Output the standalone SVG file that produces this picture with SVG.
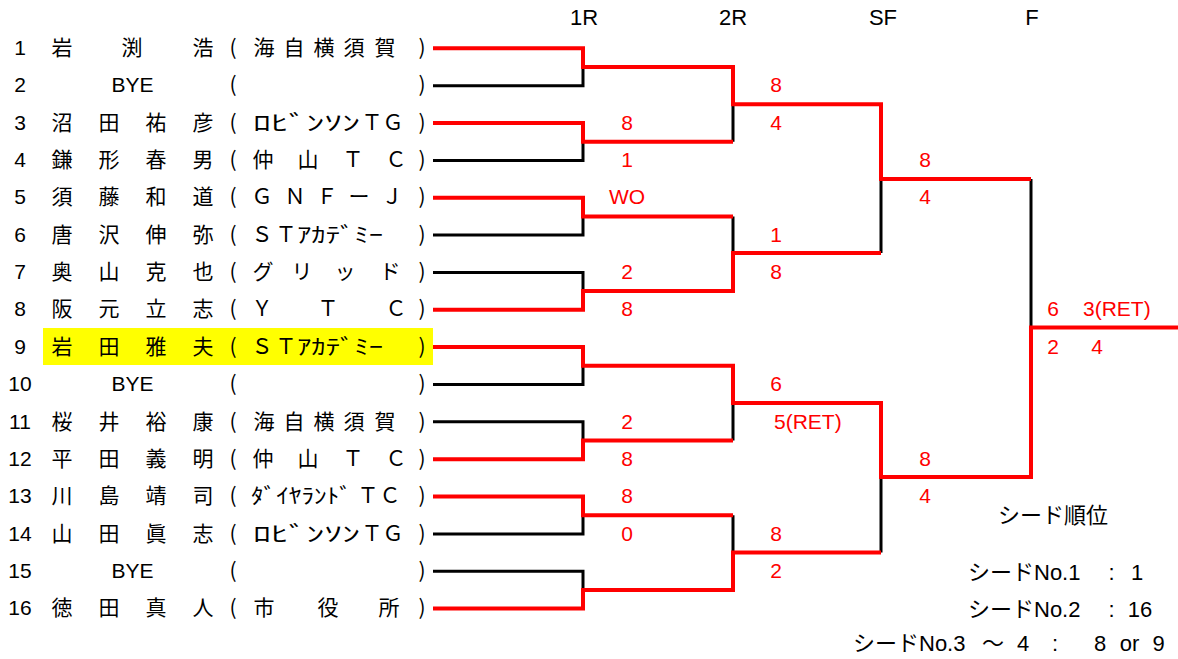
<svg xmlns="http://www.w3.org/2000/svg" width="1178" height="659" viewBox="0 0 1178 659">
<style>
.t{font-family:'Liberation Sans','Noto Sans CJK JP',sans-serif;font-size:21px;fill:#000;text-anchor:middle}
.j{font-family:'Noto Sans CJK JP',sans-serif;font-size:21px;fill:#000;text-anchor:middle}
.hw{font-family:'Noto Sans CJK JP',sans-serif;font-size:21px;fill:#000;text-anchor:start}
.s{font-family:'Liberation Sans','Noto Sans CJK JP',sans-serif;font-size:21px;fill:#FF0000;text-anchor:middle}
.h{font-family:'Liberation Sans',sans-serif;font-size:22px;fill:#000;text-anchor:middle}
.k{font-family:'Liberation Sans','Noto Sans CJK JP',sans-serif;font-size:22px;fill:#000}
.rl{fill:none;stroke:#FF0000;stroke-width:4;stroke-linejoin:miter}
.bl{fill:none;stroke:#000;stroke-width:3}
</style>
<rect width="1178" height="659" fill="#fff"/>
<g id="headers">
<text class="h" x="584" y="25">1R</text>
<text class="h" x="733" y="25">2R</text>
<text class="h" x="883" y="25">SF</text>
<text class="h" x="1032" y="25">F</text>
</g>
<rect id="highlight" x="43" y="328" width="390" height="37" fill="#FFFF00"/>
<g id="row1"><text class="t" x="20" y="55">1</text><text class="j" x="62 132 203" y="55">岩渕浩</text><text class="j" x="233" y="55">(</text><text class="j" x="264 294 324 354 385" y="55">海自横須賀</text><text class="j" x="422" y="55">)</text></g>
<g id="row2"><text class="t" x="20" y="92.35">2</text><text class="t" x="132.5" y="92.35">BYE</text><text class="j" x="233" y="92.35">(</text><text class="j" x="422" y="92.35">)</text></g>
<g id="row3"><text class="t" x="20" y="129.7">3</text><text class="j" x="62 109 156 203" y="129.7">沼田祐彦</text><text class="j" x="233" y="129.7">(</text><text class="hw" x="253" y="129.7" textLength="107" lengthAdjust="spacingAndGlyphs">ﾛﾋﾞﾝｿﾝ</text><text class="j" x="372 393" y="129.7">ＴＧ</text><text class="j" x="422" y="129.7">)</text></g>
<g id="row4"><text class="t" x="20" y="167.05">4</text><text class="j" x="62 109 156 203" y="167.05">鎌形春男</text><text class="j" x="233" y="167.05">(</text><text class="j" x="263 308 353 396" y="167.05">仲山ＴＣ</text><text class="j" x="422" y="167.05">)</text></g>
<g id="row5"><text class="t" x="20" y="204.4">5</text><text class="j" x="62 109 156 203" y="204.4">須藤和道</text><text class="j" x="233" y="204.4">(</text><text class="j" x="262 295 327 359 392" y="204.4">ＧＮＦーＪ</text><text class="j" x="422" y="204.4">)</text></g>
<g id="row6"><text class="t" x="20" y="241.75">6</text><text class="j" x="62 109 156 203" y="241.75">唐沢伸弥</text><text class="j" x="233" y="241.75">(</text><text class="j" x="262 286" y="241.75">ＳＴ</text><text class="hw" x="297" y="241.75" textLength="86" lengthAdjust="spacingAndGlyphs">ｱｶﾃﾞﾐｰ</text><text class="j" x="422" y="241.75">)</text></g>
<g id="row7"><text class="t" x="20" y="279.1">7</text><text class="j" x="62 109 156 203" y="279.1">奥山克也</text><text class="j" x="233" y="279.1">(</text><text class="j" x="263 302 345 390" y="279.1">グリッド</text><text class="j" x="422" y="279.1">)</text></g>
<g id="row8"><text class="t" x="20" y="316.45">8</text><text class="j" x="62 109 156 203" y="316.45">阪元立志</text><text class="j" x="233" y="316.45">(</text><text class="j" x="262 328 396" y="316.45">ＹＴＣ</text><text class="j" x="422" y="316.45">)</text></g>
<g id="row9"><text class="t" x="20" y="353.8">9</text><text class="j" x="62 109 156 203" y="353.8">岩田雅夫</text><text class="j" x="233" y="353.8">(</text><text class="j" x="262 286" y="353.8">ＳＴ</text><text class="hw" x="297" y="353.8" textLength="86" lengthAdjust="spacingAndGlyphs">ｱｶﾃﾞﾐｰ</text><text class="j" x="422" y="353.8">)</text></g>
<g id="row10"><text class="t" x="20" y="391.15">10</text><text class="t" x="132.5" y="391.15">BYE</text><text class="j" x="233" y="391.15">(</text><text class="j" x="422" y="391.15">)</text></g>
<g id="row11"><text class="t" x="20" y="428.5">11</text><text class="j" x="62 109 156 203" y="428.5">桜井裕康</text><text class="j" x="233" y="428.5">(</text><text class="j" x="264 294 324 354 385" y="428.5">海自横須賀</text><text class="j" x="422" y="428.5">)</text></g>
<g id="row12"><text class="t" x="20" y="465.85">12</text><text class="j" x="62 109 156 203" y="465.85">平田義明</text><text class="j" x="233" y="465.85">(</text><text class="j" x="263 308 353 396" y="465.85">仲山ＴＣ</text><text class="j" x="422" y="465.85">)</text></g>
<g id="row13"><text class="t" x="20" y="503.2">13</text><text class="j" x="62 109 156 203" y="503.2">川島靖司</text><text class="j" x="233" y="503.2">(</text><text class="hw" x="251" y="503.2" textLength="101" lengthAdjust="spacingAndGlyphs">ﾀﾞｲﾔﾗﾝﾄﾞ</text><text class="j" x="368 390" y="503.2">ＴＣ</text><text class="j" x="422" y="503.2">)</text></g>
<g id="row14"><text class="t" x="20" y="540.55">14</text><text class="j" x="62 109 156 203" y="540.55">山田眞志</text><text class="j" x="233" y="540.55">(</text><text class="hw" x="253" y="540.55" textLength="107" lengthAdjust="spacingAndGlyphs">ﾛﾋﾞﾝｿﾝ</text><text class="j" x="372 393" y="540.55">ＴＧ</text><text class="j" x="422" y="540.55">)</text></g>
<g id="row15"><text class="t" x="20" y="577.9">15</text><text class="t" x="132.5" y="577.9">BYE</text><text class="j" x="233" y="577.9">(</text><text class="j" x="422" y="577.9">)</text></g>
<g id="row16"><text class="t" x="20" y="615.25">16</text><text class="j" x="62 109 156 203" y="615.25">徳田真人</text><text class="j" x="233" y="615.25">(</text><text class="j" x="264 328 389" y="615.25">市役所</text><text class="j" x="422" y="615.25">)</text></g>
<g id="connectors">
<path class="bl" d="M433,85.7H583V67"/>
<path class="bl" d="M433,160.4H583V141.7"/>
<path class="bl" d="M433,235.1H583V216.4"/>
<path class="bl" d="M433,272.4H583V291.1"/>
<path class="bl" d="M433,384.5H583V365.8"/>
<path class="bl" d="M433,421.8H583V440.5"/>
<path class="bl" d="M433,533.9H583V515.2"/>
<path class="bl" d="M433,571.2H583V589.9"/>
<path class="bl" d="M733,141.7V104.3M733,216.4V253M733,440.5V403.1M733,515.2V552.5"/>
<path class="bl" d="M881,253V179M881,552.5V477"/>
<path class="bl" d="M1031,179V327.5"/>
<path class="rl" d="M433,48.3H583V67H733V104.3H881V179H1031"/>
<path class="rl" d="M433,123H583V141.7H733"/>
<path class="rl" d="M433,197.7H583V216.4H733"/>
<path class="rl" d="M433,309.8H583V291.1H733V253H881"/>
<path class="rl" d="M433,347.1H583V365.8H733V403.1H881V477H1031V327.5H1178"/>
<path class="rl" d="M433,459.2H583V440.5H733"/>
<path class="rl" d="M433,496.5H583V515.2H733"/>
<path class="rl" d="M433,608.6H583V589.9H733V552.5H881"/>
</g>
<g id="scores">
<text class="s" x="627" y="129.7">8</text>
<text class="s" x="627" y="167.05">1</text>
<text class="s" x="627" y="204.4">WO</text>
<text class="s" x="627" y="279.1">2</text>
<text class="s" x="627" y="316.45">8</text>
<text class="s" x="627" y="428.5">2</text>
<text class="s" x="627" y="465.85">8</text>
<text class="s" x="627" y="503.2">8</text>
<text class="s" x="627" y="540.55">0</text>
<text class="s" x="776" y="92.35">8</text>
<text class="s" x="776" y="129.7">4</text>
<text class="s" x="776" y="241.75">1</text>
<text class="s" x="776" y="279.1">8</text>
<text class="s" x="776" y="391.15">6</text>
<text class="s" x="774" y="428.5" style="text-anchor:start">5(RET)</text>
<text class="s" x="776" y="540.55">8</text>
<text class="s" x="776" y="577.9">2</text>
<text class="s" x="925" y="167.05">8</text>
<text class="s" x="925" y="204.4">4</text>
<text class="s" x="925" y="465.85">8</text>
<text class="s" x="925" y="503.2">4</text>
<text class="s" x="1053" y="316.45">6</text>
<text class="s" x="1083" y="316.45" style="text-anchor:start">3(RET)</text>
<text class="s" x="1053" y="353.8">2</text>
<text class="s" x="1097" y="353.8">4</text>
</g>
<g id="seeds">
<text class="k" x="1053" y="523" style="text-anchor:middle">シード順位</text>
<text class="k" x="968" y="580">シードNo.1</text>
<text class="k" x="1111.5" y="580" style="text-anchor:middle">:</text>
<text class="k" x="1137" y="580" style="text-anchor:middle">1</text>
<text class="k" x="968" y="616.5">シードNo.2</text>
<text class="k" x="1111.5" y="616.5" style="text-anchor:middle">:</text>
<text class="k" x="1140" y="616.5" style="text-anchor:middle">16</text>
<text class="k" x="853" y="651">シードNo.3</text>
<text class="k" x="993" y="651" style="text-anchor:middle">～</text>
<text class="k" x="1023" y="651" style="text-anchor:middle">4</text>
<text class="k" x="1055" y="651" style="text-anchor:middle">:</text>
<text class="k" x="1100" y="651" style="text-anchor:middle">8</text>
<text class="k" x="1129.5" y="651" style="text-anchor:middle">or</text>
<text class="k" x="1158.5" y="651" style="text-anchor:middle">9</text>
</g>
</svg>
